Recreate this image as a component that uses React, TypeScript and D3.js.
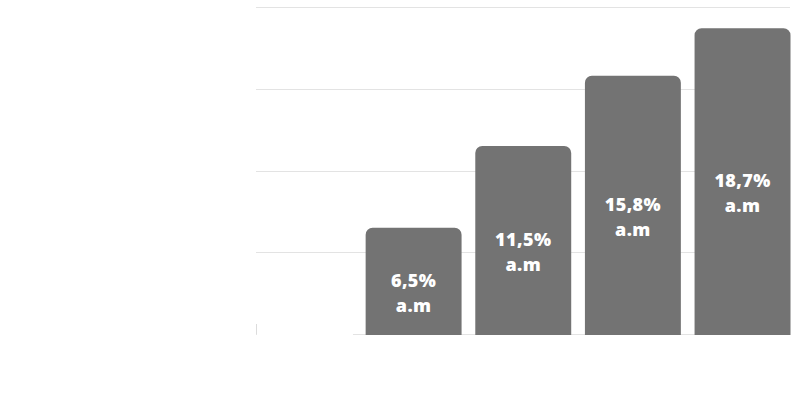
import React from 'react'
import * as d3 from 'd3'

// chart values
const categories = ['A', 'B', 'C', 'D', 'E']
const values = [0.55, 6.5, 11.5, 15.8, 18.7]
const labels = ['', '6,5%', '11,5%', '15,8%', '18,7%']
const unitLabel = 'a.m'
const yTicks = [0, 5, 10, 15, 20]

const width = 799
const height = 399
const margin = { top: 7, right: 9, bottom: 65, left: 256 }

const barColor = '#737373'
const gridColor = '#e3e3e3'

// path for a bar with only the top corners rounded
function topRoundedBar (x: number, y: number, w: number, h: number, r: number) {
  const rr = Math.min(r, h, w / 2)
  const p = d3.path()
  p.moveTo(x, y + h)
  p.lineTo(x, y + rr)
  p.arcTo(x, y, x + rr, y, rr)
  p.lineTo(x + w - rr, y)
  p.arcTo(x + w, y, x + w, y + rr, rr)
  p.lineTo(x + w, y + h)
  p.closePath()
  return p.toString()
}

export default function App () {
  const xScale = d3.scaleBand()
    .domain(categories)
    .range([margin.left, width - margin.right + 0.5])
    .paddingInner(0.125)
    .paddingOuter(0)

  const yScale = d3.scaleLinear()
    .domain([0, 20])
    .range([height - margin.bottom, margin.top])

  const x0 = margin.left
  const x1 = width - margin.right
  const firstX = xScale(categories[0]) as number

  return (
    <svg
      width={width}
      height={height}
      style={{ position: 'absolute', left: 0, top: 0, display: 'block', background: '#fff' }}
    >
      {/* grid */}
      <g>
        {yTicks.map((t) => (
          <line
            key={t}
            x1={x0}
            x2={x1}
            y1={Math.round(yScale(t)) + 0.5}
            y2={Math.round(yScale(t)) + 0.5}
            stroke={gridColor}
            strokeWidth={1}
          />
        ))}
      </g>

      {/* short axis stub next to the first (white) bar */}
      <line
        x1={firstX + 0.5}
        x2={firstX + 0.5}
        y1={yScale(values[0]) - 1}
        y2={yScale(0)}
        stroke='#dcdcdc'
        strokeWidth={1}
      />

      {/* bars */}
      <g>
        {values.map((v, i) => {
          const bx = xScale(categories[i]) as number
          const by = yScale(v)
          const bh = yScale(0) - by + 1
          return (
            <path
              key={categories[i]}
              d={topRoundedBar(bx + (i === 0 ? 1 : 0), by, xScale.bandwidth(), bh, 7)}
              fill={i === 0 ? '#ffffff' : barColor}
            />
          )
        })}
      </g>

      {/* value labels inside the bars */}
      <g
        fill='#ffffff'
        fontFamily="'Open Sans', sans-serif"
        fontWeight={800}
        fontSize={18}
        letterSpacing={0.4}
        textAnchor='middle'
      >
        {values.map((v, i) => {
          if (!labels[i]) return null
          const cx = (xScale(categories[i]) as number) + xScale.bandwidth() / 2
          const mid = (yScale(v) + yScale(0)) / 2
          return (
            <text key={categories[i]} x={cx} y={mid + 6}>
              <tspan x={cx}>{labels[i]}</tspan>
              <tspan x={cx} dy={25}>{unitLabel}</tspan>
            </text>
          )
        })}
      </g>
    </svg>
  )
}
